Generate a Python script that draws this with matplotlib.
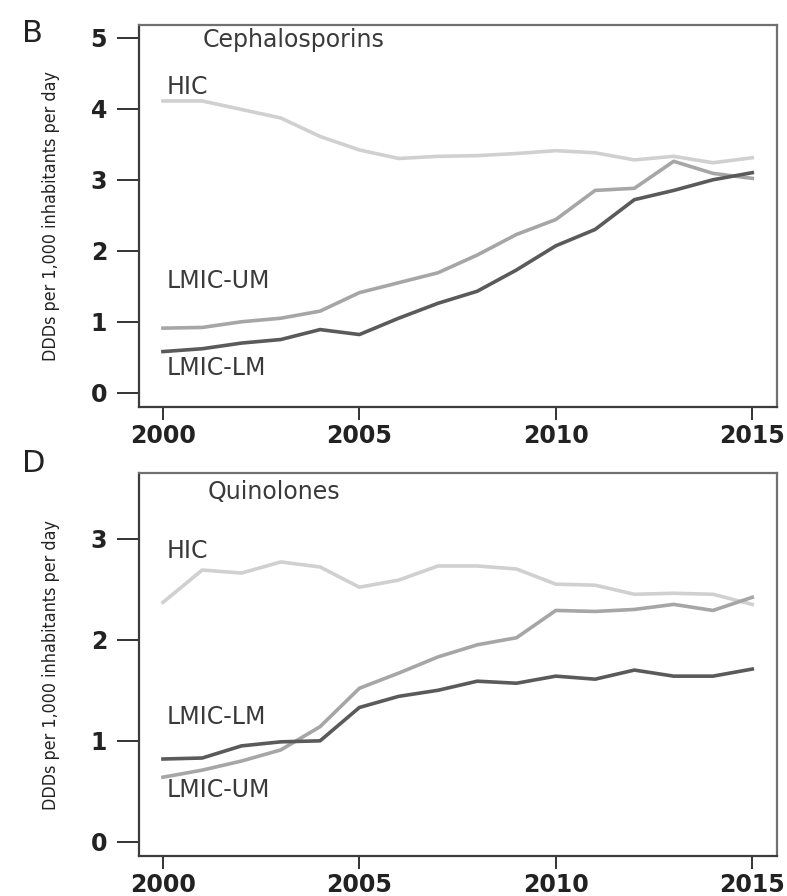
import matplotlib
matplotlib.use('Agg')
import matplotlib.pyplot as plt

years = list(range(2000, 2016))
xticks = [2000, 2005, 2010, 2015]

ceph_hic = [4.11, 4.11, 3.99, 3.87, 3.61, 3.42, 3.30, 3.33, 3.34, 3.37, 3.41, 3.38, 3.28, 3.33, 3.24, 3.31]
ceph_um = [0.91, 0.92, 1.00, 1.05, 1.15, 1.41, 1.55, 1.69, 1.94, 2.23, 2.44, 2.85, 2.88, 3.26, 3.09, 3.02]
ceph_lm = [0.58, 0.62, 0.70, 0.75, 0.89, 0.82, 1.05, 1.26, 1.43, 1.73, 2.07, 2.30, 2.72, 2.85, 3.00, 3.10]

quin_hic = [2.37, 2.69, 2.66, 2.77, 2.72, 2.52, 2.59, 2.73, 2.73, 2.70, 2.55, 2.54, 2.45, 2.46, 2.45, 2.35]
quin_um = [0.64, 0.71, 0.80, 0.91, 1.14, 1.52, 1.67, 1.83, 1.95, 2.02, 2.29, 2.28, 2.30, 2.35, 2.29, 2.42]
quin_lm = [0.82, 0.83, 0.95, 0.99, 1.00, 1.33, 1.44, 1.50, 1.59, 1.57, 1.64, 1.61, 1.70, 1.64, 1.64, 1.71]

ylabel = "DDDs per 1,000 inhabitants per day"

C_HIC = '#d0d0d0'
C_UM = '#a6a6a6'
C_LM = '#5a5a5a'
TXT = '#3a3a3a'

plt.rcParams['font.family'] = ['DejaVu Sans']

fig = plt.figure(figsize=(7.87, 8.96), dpi=100)

def style(ax, yticks, ylim):
    ax.set_xlim(1999.39, 2015.63)
    ax.set_ylim(*ylim)
    ax.set_xticks(xticks)
    ax.set_yticks(yticks)
    ax.set_xticklabels([str(t) for t in xticks], fontsize=17, fontweight='bold', color='#222222')
    ax.set_yticklabels([str(t) for t in yticks], fontsize=17, fontweight='bold', color='#222222')
    ax.tick_params(axis='y', length=16, width=1.4, pad=7, color='#333333')
    ax.tick_params(axis='x', length=9.5, width=1.4, pad=3, color='#333333')
    for s in ['left', 'bottom']:
        ax.spines[s].set_color('#3c3c3c')
        ax.spines[s].set_linewidth(1.6)
    for s in ['top', 'right']:
        ax.spines[s].set_color('#707070')
        ax.spines[s].set_linewidth(1.6)
    ax.set_ylabel(ylabel, family=['DejaVu Sans'], fontstretch='condensed',
                  fontsize=12.8, color='#222222', labelpad=22)

# Panel B
ax1 = fig.add_axes([0.1766, 0.5458, 0.8107, 0.4263])
ax1.plot(years, ceph_hic, color=C_HIC, lw=2.6)
ax1.plot(years, ceph_um, color=C_UM, lw=2.6)
ax1.plot(years, ceph_lm, color=C_LM, lw=2.6)
style(ax1, [0, 1, 2, 3, 4, 5], (-0.2, 5.18))
ax1.text(2001.0, 4.97, 'Cephalosporins', fontsize=17, color=TXT, ha='left', va='center')
ax1.text(2000.1, 4.30, 'HIC', fontsize=17, color=TXT, ha='left', va='center')
ax1.text(2000.1, 1.57, 'LMIC-UM', fontsize=17, color=TXT, ha='left', va='center')
ax1.text(2000.1, 0.35, 'LMIC-LM', fontsize=17, color=TXT, ha='left', va='center')
fig.text(0.028, 0.963, 'B', fontsize=22, color='#222222', ha='left', va='center')

# Panel D
ax2 = fig.add_axes([0.1766, 0.0446, 0.8107, 0.4275])
ax2.plot(years, quin_hic, color=C_HIC, lw=2.6)
ax2.plot(years, quin_um, color=C_UM, lw=2.6)
ax2.plot(years, quin_lm, color=C_LM, lw=2.6)
style(ax2, [0, 1, 2, 3], (-0.14, 3.65))
ax2.text(2001.14, 3.46, 'Quinolones', fontsize=17, color=TXT, ha='left', va='center')
ax2.text(2000.1, 2.88, 'HIC', fontsize=17, color=TXT, ha='left', va='center')
ax2.text(2000.1, 1.24, 'LMIC-LM', fontsize=17, color=TXT, ha='left', va='center')
ax2.text(2000.1, 0.51, 'LMIC-UM', fontsize=17, color=TXT, ha='left', va='center')
fig.text(0.028, 0.483, 'D', fontsize=22, color='#222222', ha='left', va='center')

fig.savefig('out.png', dpi=100)
